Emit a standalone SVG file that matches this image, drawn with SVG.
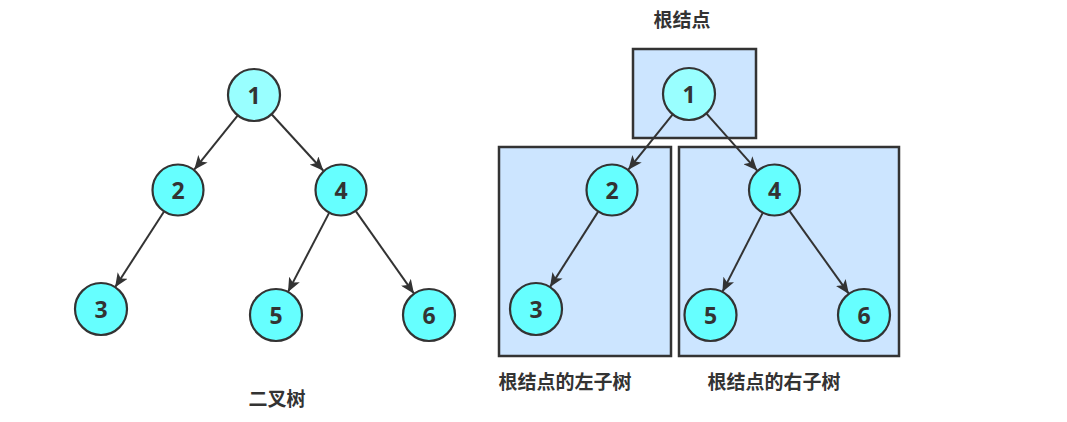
<svg xmlns="http://www.w3.org/2000/svg" width="1067" height="422" viewBox="0 0 1067 422">
<style>
.n{stroke:#333;stroke-width:2.2;fill:#66FFFF}
.r{fill:#99FFFF}
.num{font-family:"Open Sans","Liberation Sans",sans-serif;font-weight:bold;font-size:23px;fill:#333;text-anchor:middle;dominant-baseline:central}
.lbl{font-family:"Noto Sans CJK SC",sans-serif;font-weight:bold;font-size:19px;fill:#333;text-anchor:middle}
.box{fill:#CCE5FF;stroke:#333;stroke-width:2.5}
.e{stroke:#333;stroke-width:2;fill:none;marker-end:url(#ah)}
</style>
<defs>
<marker id="ah" markerUnits="userSpaceOnUse" viewBox="0 0 14 12" markerWidth="14" markerHeight="12" refX="14" refY="6" orient="auto">
<path d="M0,0 L14,6 L0,12 L3.5,6 z" fill="#333"/>
</marker>
</defs>
<rect width="1067" height="422" fill="#fff"/>
<g id="boxes">
<rect id="box-root" class="box" x="633" y="49" width="123" height="89"/>
<rect id="box-left" class="box" x="499" y="147" width="172" height="209"/>
<rect id="box-right" class="box" x="679" y="147" width="220" height="209"/>
</g>
<g id="connectors">
<line class="e" x1="237.8" y1="115.3" x2="194.2" y2="169.7"/>
<line class="e" x1="271.6" y1="114.2" x2="323.4" y2="170.8"/>
<line class="e" x1="163.9" y1="211.8" x2="115.1" y2="287.2"/>
<line class="e" x1="329" y1="213.1" x2="288" y2="291.9"/>
<line class="e" x1="356" y1="211.3" x2="414" y2="293.7"/>
<line class="e" x1="672.7" y1="114.3" x2="628.3" y2="169.7"/>
<line class="e" x1="706.3" y1="113.4" x2="757.2" y2="170.6"/>
<line class="e" x1="598" y1="211.9" x2="550" y2="287.1"/>
<line class="e" x1="762.6" y1="213.1" x2="722.4" y2="291.9"/>
<line class="e" x1="789.6" y1="211.1" x2="848.9" y2="293.9"/>
</g>
<g id="L1"><circle class="n r" cx="254" cy="95" r="26"/><text class="num" x="254" y="95">1</text></g>
<g id="L2"><circle class="n" cx="178" cy="190" r="25.5"/><text class="num" x="178" y="190">2</text></g>
<g id="L4"><circle class="n" cx="341" cy="190" r="25.5"/><text class="num" x="341" y="190">4</text></g>
<g id="L3"><circle class="n" cx="101" cy="309" r="26"/><text class="num" x="101" y="309">3</text></g>
<g id="L5"><circle class="n" cx="276" cy="315" r="26"/><text class="num" x="276" y="315">5</text></g>
<g id="L6"><circle class="n" cx="429" cy="315" r="26"/><text class="num" x="429" y="315">6</text></g>
<g id="R1"><circle class="n r" cx="689" cy="94" r="26"/><text class="num" x="689" y="94">1</text></g>
<g id="R2"><circle class="n" cx="612" cy="190" r="25.5"/><text class="num" x="612" y="190">2</text></g>
<g id="R4"><circle class="n" cx="774.5" cy="190" r="25.5"/><text class="num" x="774.5" y="190">4</text></g>
<g id="R3"><circle class="n" cx="536" cy="309" r="26"/><text class="num" x="536" y="309">3</text></g>
<g id="R5"><circle class="n" cx="710.5" cy="315" r="26"/><text class="num" x="710.5" y="315">5</text></g>
<g id="R6"><circle class="n" cx="864" cy="315" r="26"/><text class="num" x="864" y="315">6</text></g>
<g id="labels">
<text class="lbl" x="277" y="406">二叉树</text>
<text class="lbl" x="682" y="27">根结点</text>
<text class="lbl" x="565" y="389">根结点的左子树</text>
<text class="lbl" x="774" y="389">根结点的右子树</text>
</g>
</svg>
